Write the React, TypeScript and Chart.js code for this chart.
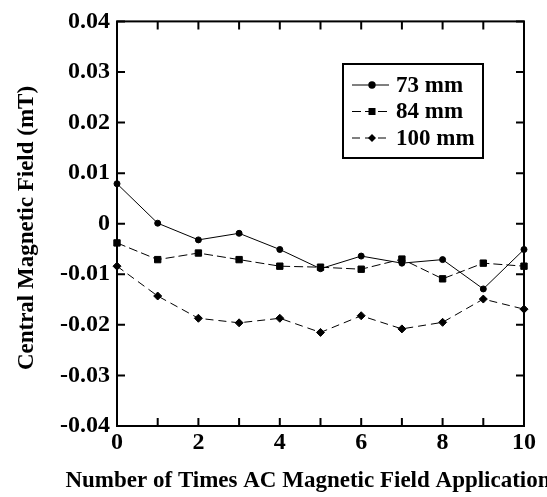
import React, { useEffect, useRef } from "react";
import { Chart, registerables } from "chart.js";

Chart.register(...registerables);

const xValues = [0, 1, 2, 3, 4, 5, 6, 7, 8, 9, 10];
const series73 = [0.0079, 0.0001, -0.0032, -0.0019, -0.0051, -0.0089, -0.0064, -0.0078, -0.0071, -0.0129, -0.0051];
const series84 = [-0.0038, -0.0071, -0.0058, -0.0071, -0.0084, -0.0086, -0.009, -0.007, -0.0109, -0.0078, -0.0084];
const series100 = [-0.0084, -0.0143, -0.0187, -0.0196, -0.0187, -0.0215, -0.0182, -0.0208, -0.0195, -0.0149, -0.0169];
const seriesLabels = ["73 mm", "84 mm", "100 mm"];
const xTitle = "Number of Times AC Magnetic Field Application";
const yTitle = "Central Magnetic Field (mT)";

const FONT = "'Liberation Serif', 'Times New Roman', serif";

const styles = [
  { pointStyle: "circle", radius: 3, dash: [] as number[] },
  { pointStyle: "rect", radius: 4.5, dash: [9, 4] },
  { pointStyle: "rectRot", radius: 4, dash: [8, 5] },
];

function drawMarker(ctx: CanvasRenderingContext2D, style: string, x: number, y: number) {
  ctx.save();
  ctx.setLineDash([]);
  ctx.fillStyle = "#000";
  ctx.beginPath();
  if (style === "circle") {
    ctx.arc(x, y, 3.7, 0, Math.PI * 2);
  } else if (style === "rect") {
    ctx.rect(x - 3.5, y - 3.5, 7, 7);
  } else {
    ctx.moveTo(x - 4, y);
    ctx.lineTo(x, y - 4);
    ctx.lineTo(x + 4, y);
    ctx.lineTo(x, y + 4);
    ctx.closePath();
  }
  ctx.fill();
  ctx.restore();
}

const framePlugin = {
  id: "framePlugin",
  afterDraw(chart: any) {
    const ctx: CanvasRenderingContext2D = chart.ctx;
    const { left, right, top, bottom } = chart.chartArea;
    const xs = chart.scales.x;
    const ys = chart.scales.y;
    ctx.save();
    ctx.strokeStyle = "#000";
    ctx.lineWidth = 2;
    ctx.setLineDash([]);
    ctx.strokeRect(left, top, right - left, bottom - top);
    const tl = 8;
    ctx.beginPath();
    for (const v of xValues) {
      const px = xs.getPixelForValue(v);
      ctx.moveTo(px, bottom);
      ctx.lineTo(px, bottom - tl);
      ctx.moveTo(px, top);
      ctx.lineTo(px, top + tl);
    }
    for (let k = -4; k <= 4; k++) {
      const py = ys.getPixelForValue(k / 100);
      ctx.moveTo(left, py);
      ctx.lineTo(left + tl, py);
      ctx.moveTo(right, py);
      ctx.lineTo(right - tl, py);
    }
    ctx.stroke();

    // axis titles
    ctx.fillStyle = "#000";
    ctx.font = `bold 23px ${FONT}`;
    ctx.textAlign = "center";
    ctx.textBaseline = "alphabetic";
    ctx.fillText(xTitle, 308, 487);
    ctx.save();
    ctx.translate(33, 228);
    ctx.rotate(-Math.PI / 2);
    ctx.fillText(yTitle, 0, 0);
    ctx.restore();

    // legend
    const bx = 343, by = 64, bw = 140, bh = 94;
    ctx.fillStyle = "#fff";
    ctx.fillRect(bx, by, bw, bh);
    ctx.lineWidth = 2;
    ctx.strokeRect(bx, by, bw, bh);
    const rows = [85, 111.5, 138];
    ctx.font = `bold 23px ${FONT}`;
    ctx.textBaseline = "middle";
    ctx.textAlign = "left";
    seriesLabels.forEach((lab, i) => {
      const y = rows[i];
      ctx.lineWidth = 1;
      ctx.setLineDash(styles[i].dash);
      ctx.beginPath();
      ctx.moveTo(352, y);
      ctx.lineTo(389, y);
      ctx.stroke();
      drawMarker(ctx, styles[i].pointStyle, 372, y);
      ctx.setLineDash([]);
      ctx.fillStyle = "#000";
      ctx.fillText(lab, 396, y + 1);
    });
    ctx.restore();
  },
};

export default function App() {
  const ref = useRef<HTMLCanvasElement | null>(null);
  useEffect(() => {
    if (!ref.current) return;
    const allSeries = [series73, series84, series100];
    const chart = new Chart(ref.current, {
      type: "line",
      data: {
        datasets: allSeries.map((s, i) => ({
          label: seriesLabels[i],
          data: xValues.map((x, j) => ({ x, y: s[j] })),
          borderColor: "#000",
          backgroundColor: "#000",
          borderWidth: 1,
          borderDash: styles[i].dash,
          pointStyle: styles[i].pointStyle as any,
          pointRadius: styles[i].radius,
          pointBorderWidth: 1,
          pointBorderColor: "#000",
          pointBackgroundColor: "#000",
          tension: 0,
          clip: false as any,
        })),
      },
      options: {
        animation: false,
        responsive: false,
        maintainAspectRatio: false,
        layout: { padding: { top: 19, right: 23, left: 0, bottom: 0 } },
        plugins: { legend: { display: false }, tooltip: { enabled: false } },
        scales: {
          x: {
            type: "linear",
            min: 0,
            max: 10,
            grid: { display: false, drawTicks: false, tickLength: 0 },
            border: { display: false },
            ticks: {
              stepSize: 2,
              padding: 2,
              color: "#000",
              font: { family: FONT, size: 24, weight: "bold" },
              maxRotation: 0,
              autoSkip: false,
            },
            title: { display: false },
            afterFit: (scale: any) => {
              scale.height = 71;
            },
          },
          y: {
            type: "linear",
            min: -0.04,
            max: 0.04,
            grid: { display: false, drawTicks: false, tickLength: 0 },
            border: { display: false },
            ticks: {
              stepSize: 0.01,
              padding: 7,
              color: "#000",
              font: { family: FONT, size: 24, weight: "bold" },
              callback: (v: any) => String(Number(Number(v).toFixed(2))),
            },
            title: { display: false },
            afterFit: (scale: any) => {
              scale.width = 117;
            },
          },
        },
      },
      plugins: [framePlugin],
    });
    return () => chart.destroy();
  }, []);
  return (
    <div style={{ position: "fixed", left: 0, top: 0, width: 547, height: 497, background: "#fff" }}>
      <canvas ref={ref} width={547} height={497} />
    </div>
  );
}
